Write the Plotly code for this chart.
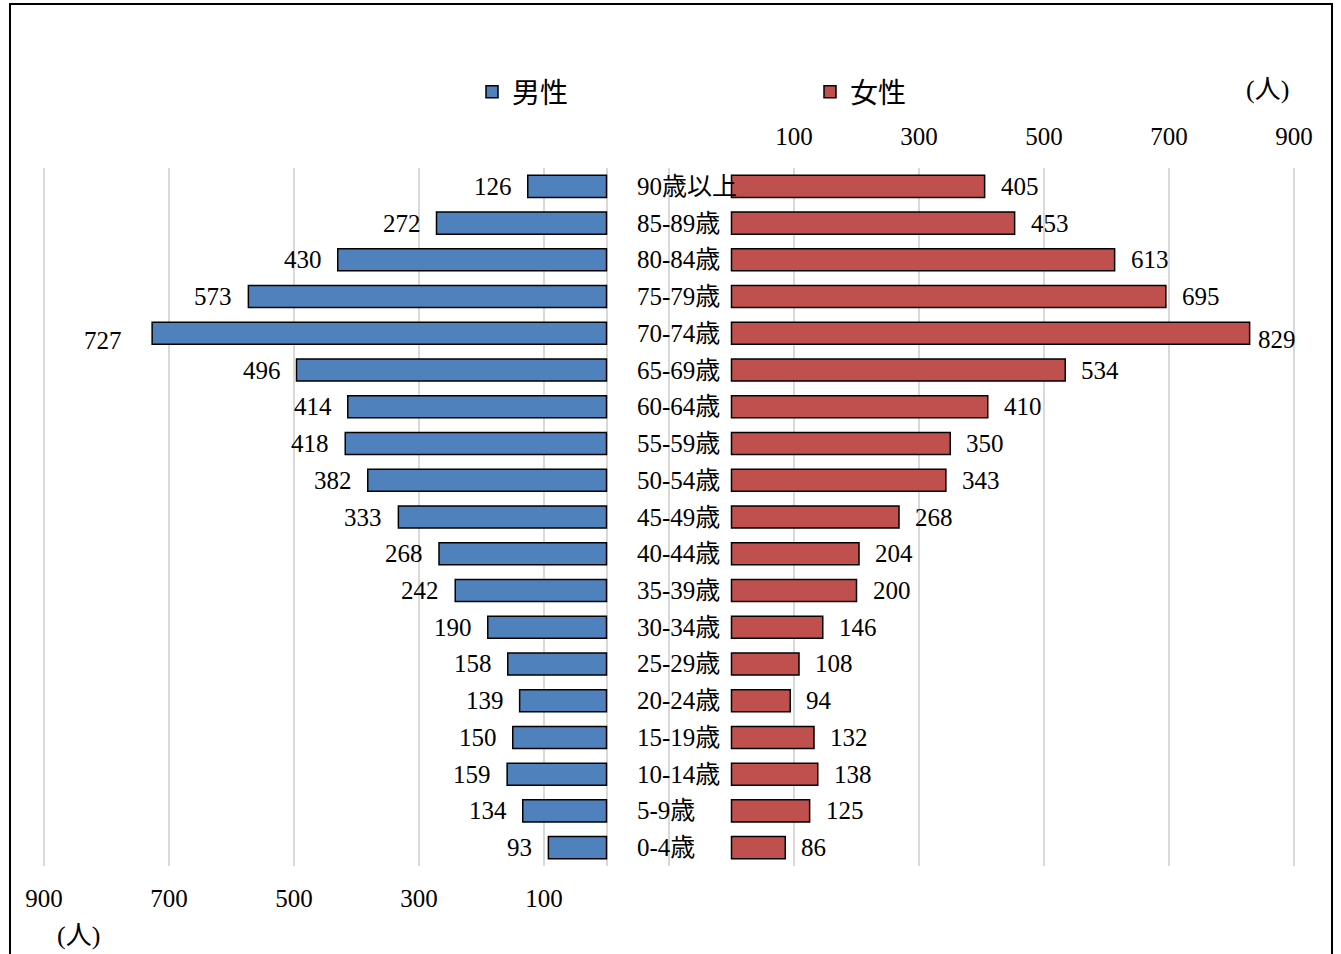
import plotly.graph_objects as go

# Age groups, top to bottom
age_groups = ["90歳以上", "85-89歳", "80-84歳", "75-79歳", "70-74歳", "65-69歳",
              "60-64歳", "55-59歳", "50-54歳", "45-49歳", "40-44歳", "35-39歳",
              "30-34歳", "25-29歳", "20-24歳", "15-19歳", "10-14歳", "5-9歳", "0-4歳"]
male = [126, 272, 430, 573, 727, 496, 414, 418, 382, 333, 268, 242, 190, 158, 139, 150, 159, 134, 93]
female = [405, 453, 613, 695, 829, 534, 410, 350, 343, 268, 204, 200, 146, 108, 94, 132, 138, 125, 86]
tick_values = [100, 300, 500, 700, 900]
tick_labels = ["100", "300", "500", "700", "900"]

W, H = 1341, 954
FONT = "Liberation Serif, 'Noto Sans CJK JP', serif"
CJK = "'Noto Sans CJK JP', sans-serif"
GRID = "#d9d9d9"
FS = 25


def px_x(p):
    return p / W


def px_y(p):
    return 1 - p / H


fig = go.Figure()
fig.add_trace(go.Bar(
    y=age_groups, x=male, orientation="h", name="男性",
    xaxis="x", yaxis="y", width=0.6,
    marker=dict(color="#4f81bd", line=dict(color="#000000", width=1.5)),
    hoverinfo="skip",
))
fig.add_trace(go.Bar(
    y=age_groups, x=female, orientation="h", name="女性",
    xaxis="x2", yaxis="y", width=0.6,
    marker=dict(color="#c0504d", line=dict(color="#000000", width=1.5)),
    hoverinfo="skip",
))

annotations = []
# value labels beside each bar
for cat, v in zip(age_groups, male):
    xs, ys = -14, 0
    if v == max(male):
        xs, ys = -28, -7
    annotations.append(dict(x=v, y=cat, xref="x", yref="y", text=str(v),
                            showarrow=False, xanchor="right", yanchor="middle",
                            xshift=xs, yshift=ys,
                            font=dict(size=FS, color="#000000", family=FONT)))
for cat, v in zip(age_groups, female):
    xs, ys = 14, 0
    if v == max(female):
        xs, ys = 6, -6
    annotations.append(dict(x=v, y=cat, xref="x2", yref="y", text=str(v),
                            showarrow=False, xanchor="left", yanchor="middle",
                            xshift=xs, yshift=ys,
                            font=dict(size=FS, color="#000000", family=FONT)))
# age group labels in the centre column
for cat in age_groups:
    annotations.append(dict(x=px_x(635), y=cat, xref="paper", yref="y", text=cat,
                            showarrow=False, xanchor="left", yanchor="middle",
                            font=dict(size=FS, color="#000000", family=FONT)))
# unit labels
annotations.append(dict(x=px_x(1267), y=px_y(90), xref="paper", yref="paper",
                        text="(人)", showarrow=False, xanchor="center", yanchor="middle",
                        font=dict(size=26, color="#000000", family=FONT)))
annotations.append(dict(x=px_x(78), y=px_y(935), xref="paper", yref="paper",
                        text="(人)", showarrow=False, xanchor="center", yanchor="middle",
                        font=dict(size=26, color="#000000", family=FONT)))

shapes = [
    # outer frame
    dict(type="rect", xref="paper", yref="paper",
         x0=px_x(10), x1=px_x(1332), y0=px_y(1000), y1=px_y(4),
         line=dict(color="#000000", width=2), fillcolor="rgba(0,0,0,0)", layer="below"),
]

# 0.625 px per person; male zero at x=606.5, female zero at x=731.5
L_RANGE = [910, -110]
R_RANGE = [-110, 910]
l_dom = [px_x(606.5 - 910 * 0.625), px_x(606.5 + 110 * 0.625)]
r_dom = [px_x(731.5 - 110 * 0.625), px_x(731.5 + 910 * 0.625)]

fig.update_layout(
    width=W, height=H,
    margin=dict(l=0, r=0, t=0, b=0, autoexpand=False),
    paper_bgcolor="#ffffff", plot_bgcolor="rgba(0,0,0,0)",
    font=dict(family=FONT, size=FS, color="#000000"),
    barmode="overlay",
    xaxis=dict(domain=l_dom, range=L_RANGE, anchor="y", automargin=False,
               side="bottom", tickvals=[-100, 0] + tick_values,
               ticktext=["", ""] + tick_labels,
               showgrid=True, gridcolor=GRID, gridwidth=2, zeroline=False,
               showline=False, ticks="", ticklabelstandoff=15,
               tickfont=dict(size=FS, family=FONT)),
    xaxis2=dict(domain=r_dom, range=R_RANGE, anchor="y", automargin=False,
                side="top", tickvals=tick_values, ticktext=tick_labels,
                showgrid=True, gridcolor=GRID, gridwidth=2, zeroline=False,
                showline=False, ticks="", ticklabelstandoff=17,
                tickfont=dict(size=FS, family=FONT)),
    yaxis=dict(domain=[px_y(866), px_y(168)], type="category", automargin=False,
               categoryorder="array", categoryarray=age_groups,
               autorange="reversed", showticklabels=False, showgrid=False,
               zeroline=False, showline=False, ticks=""),
    showlegend=True,
    legend=dict(x=px_x(472), y=px_y(92), xanchor="left", yanchor="middle",
                orientation="h", bgcolor="rgba(0,0,0,0)",
                entrywidth=293, entrywidthmode="pixels", traceorder="normal",
                font=dict(size=28, family=CJK), itemwidth=30),
    annotations=annotations,
    shapes=shapes,
)

fig.write_html("out.html")
